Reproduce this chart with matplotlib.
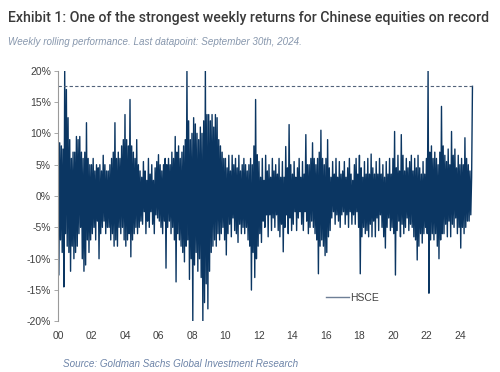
import numpy as np
import matplotlib
matplotlib.use("Agg")
import matplotlib.pyplot as plt
from matplotlib import font_manager
from matplotlib.lines import Line2D

# weekly rolling returns of HSCE (%), 20 readings per year
hsce_2000 = [2, -12.6, 8.5, -7, 8, -9, 7.5, -14.5, 20, -6, 17, -8, 12.5, -9, 9, -12, 6, -8, 7, -10]
hsce_2001 = [7, -9, 9.5, -8, 9, -6, 9.5, -5, 7, -10, 6, -12, 7, -11, 11.7, -7, 6, -9, 5, -7]
hsce_2002 = [5, -6, 6, -5, 4, -7, 5, -4, 4.5, -10, 5, -6, 4, -5, 6.5, -4, 5, -6, 4, -5]
hsce_2003 = [4, -5, 5, -7, 6, -6, 7, -8, 11.7, -7, 6, -8, 7, -5, 6, -6, 8, -5, 9, -7]
hsce_2004 = [13, -8, 9, -7, 8, -6, 15.4, -9.7, 8, -7, 7, -6, 6, -5, 9, -6, 5, -5, 4, -4]
hsce_2005 = [3, -4.5, 5.5, -2.5, 4, -6, 2.5, -4, 6, -5, 3.5, -2.5, 5, -4.5, 2.5, -6, 4.5, -3, 5.5, -3.5]
hsce_2006 = [6.6, -4, 5, -5, 4, -6, 5, -4, 6, -11.5, 5, -5, 6, -4, 5, -6, 7, -5, 6, -7]
hsce_2007 = [9.5, -13.7, 7, -6, 8, -7, 6, -8, 7, -9, 8, -10.5, 9, -8, 19.9, -7, 12, -13.3, 9, -10]
hsce_2008 = [10, -20, 12.5, -11, 11.5, -9, 10, -12, 9, -10, 11, -13, 10, -20, 12, -17, 20, -14, 13, -18]
hsce_2009 = [13, -12, 12, -9, 13, -8, 11, -7, 13, -8, 12.5, -6, 9, -7, 8, -6, 7, -5, 6, -7]
hsce_2010 = [6, -9.4, 4.5, -6, 6.5, -4.5, 4, -6.5, 6.5, -3.5, 5, -5.5, 6, -6, 4.5, -7.4, 6.5, -4.5, 4, -6]
hsce_2011 = [5, -5, 6, -6, 5, -5, 4, -7, 5, -8, 6, -15, 5, -9, 8, -13, 15.4, -10, 6.6, -8]
hsce_2012 = [5.5, -6, 3, -7.4, 6, -4, 2.5, -5, 6.5, -3, 4, -6.5, 5, -3, 3, -5.5, 6, -3.5, 4, -5]
hsce_2013 = [5, -3, 3.5, -5.5, 6, -6.5, 3, -4.5, 5.5, -8.9, 3, -5, 7.9, -3, 4.5, -6, 11.4, -3.5, 5, -5.5]
hsce_2014 = [3.5, -4.5, 5.5, -2.5, 3, -5.5, 4.5, -3.5, 6, -2.5, 3, -4.5, 5.5, -5.5, 3.5, -2.5, 9.8, -4, 5, -6]
hsce_2015 = [5, -5, 6, -4, 8.5, -5, 6, -6, 5, -7, 6, -12.4, 7, -8, 10.5, -7, 6, -8, 5, -9.5]
hsce_2016 = [6, -9, 9, -6.5, 4.5, -5.5, 3, -3.5, 5.5, -2.5, 3.5, -4.5, 6, -3, 3, -4, 5.5, -5, 3.5, -3]
hsce_2017 = [4, -2.5, 5.5, -4.5, 3, -3, 4.5, -5, 6, -2.5, 3.5, -4.5, 2.5, -3, 5, -4.5, 6, -2.5, 3.5, -5]
hsce_2018 = [6.5, -12.4, 4.5, -6.5, 3, -5, 5.5, -6, 3.5, -5.5, 6, -6.5, 3.5, -4.5, 6.7, -6.5, 4.5, -4, 3.5, -6.5]
hsce_2019 = [5.5, -3.5, 3.5, -5.5, 6, -3, 3.5, -5, 5, -6.5, 3, -8.3, 5.5, -5, 3.5, -3.5, 6, -5.5, 3.5, -5]
hsce_2020 = [6, -6, 10.3, -12.6, 4.5, -5.5, 6.5, -4, 4, -6.5, 9.8, -4.5, 6.5, -6, 4, -5, 6, -3.5, 4.5, -5.5]
hsce_2021 = [5.5, -4.5, 6.5, -5, 4, -6.5, 6, -7, 4.5, -10.2, 6.5, -8, 4.5, -6, 3.5, -7.5, 5.5, -6, 3.5, -5]
hsce_2022 = [6, -6, 20, -15.5, 7, -7, 8, -6, 6, -7, 7, -6, 6, -8, 5, -10, 7, -7, 14.3, -6]
hsce_2023 = [8, -6, 6.5, -4.5, 5.5, -6.5, 7.5, -4, 5, -6.5, 10.3, -4.5, 6.5, -5, 7.5, -3.5, 4.5, -6, 6.5, -5]
hsce_2024 = [5, -8.3, 6, -5, 5, -6, 9.3, -5, 6, -4, 5, -4, 4, -3, 3, 17.5]

first_year = 2000
last_point = 2024.75   # September 30th, 2024
record_line = 17.5     # dashed reference level, %

y_ticks = [-20, -15, -10, -5, 0, 5, 10, 15, 20]
x_ticks = list(range(2000, 2025, 2))

title = "Exhibit 1: One of the strongest weekly returns for Chinese equities on record"
subtitle = "Weekly rolling performance. Last datapoint: September 30th, 2024."
source = "Source: Goldman Sachs Global Investment Research"

hsce = (hsce_2000 + hsce_2001 + hsce_2002 + hsce_2003 + hsce_2004 + hsce_2005
        + hsce_2006 + hsce_2007 + hsce_2008 + hsce_2009 + hsce_2010 + hsce_2011
        + hsce_2012 + hsce_2013 + hsce_2014 + hsce_2015 + hsce_2016 + hsce_2017
        + hsce_2018 + hsce_2019 + hsce_2020 + hsce_2021 + hsce_2022 + hsce_2023
        + hsce_2024)
dates = np.linspace(first_year, last_point, len(hsce))

names = {f.name for f in font_manager.fontManager.ttflist}
title_font = "Liberation Sans Narrow" if "Liberation Sans Narrow" in names else "Roboto"

plt.rcParams["font.family"] = ["Liberation Sans", "DejaVu Sans"]

fig = plt.figure(figsize=(5, 3.72), dpi=100)
ax = fig.add_axes([0.116, 0.136, 0.844, 0.674])

navy = "#0b3662"
ax.plot(dates, hsce, color=navy, lw=1.0, label="HSCE")
ax.hlines(record_line, first_year, last_point, colors="#52627a",
          linestyles=(0, (3, 2)), lw=0.8)

ax.set_xlim(2000, 2025.2)
ax.set_ylim(-20, 20)
ax.set_yticks(y_ticks)
ax.set_yticklabels([f"{v}%" for v in y_ticks])
ax.set_xticks(x_ticks)
ax.set_xticklabels([f"{v % 100:02d}" for v in x_ticks])

for s in ["top", "right", "bottom"]:
    ax.spines[s].set_visible(False)
ax.spines["left"].set_color("#9a9a9a")
ax.spines["left"].set_linewidth(0.8)
ax.tick_params(axis="y", length=3, width=0.6, color="#9a9a9a", pad=2,
               labelsize=7.5, labelcolor="#404040")
ax.tick_params(axis="x", length=0, pad=7, labelsize=7.5, labelcolor="#404040")

ax.legend(handles=[Line2D([], [], color="#6e7f96", lw=1.0)], labels=["HSCE"],
          loc="center left", bbox_to_anchor=(0.635, 0.094), frameon=False,
          fontsize=7.5, handlelength=2.2, handletextpad=0.15,
          borderaxespad=0, borderpad=0, labelcolor="#404040")

t1 = fig.text(8 / 500, 1 - 18 / 372, title, family=[title_font, "DejaVu Sans"],
              fontsize=11, fontweight=500, color="#3a3a3a", va="center", ha="left")
t2 = fig.text(8 / 500, 1 - 42 / 372, subtitle, fontsize=6.8, style="italic",
              color="#8797ad", va="center", ha="left")
t3 = fig.text(63 / 500, 1 - 364 / 372, source, fontsize=7, style="italic",
              color="#6d84a8", va="center", ha="left")

# squeeze the header/footer text to the widths seen in the picture
fig.canvas.draw()
r = fig.canvas.get_renderer()
for t, w in [(t1, 477), (t2, 294), (t3, 234)]:
    cur = t.get_window_extent(r).width
    t.set_fontsize(t.get_fontsize() * w / cur)

fig.savefig("out.png", dpi=100)
